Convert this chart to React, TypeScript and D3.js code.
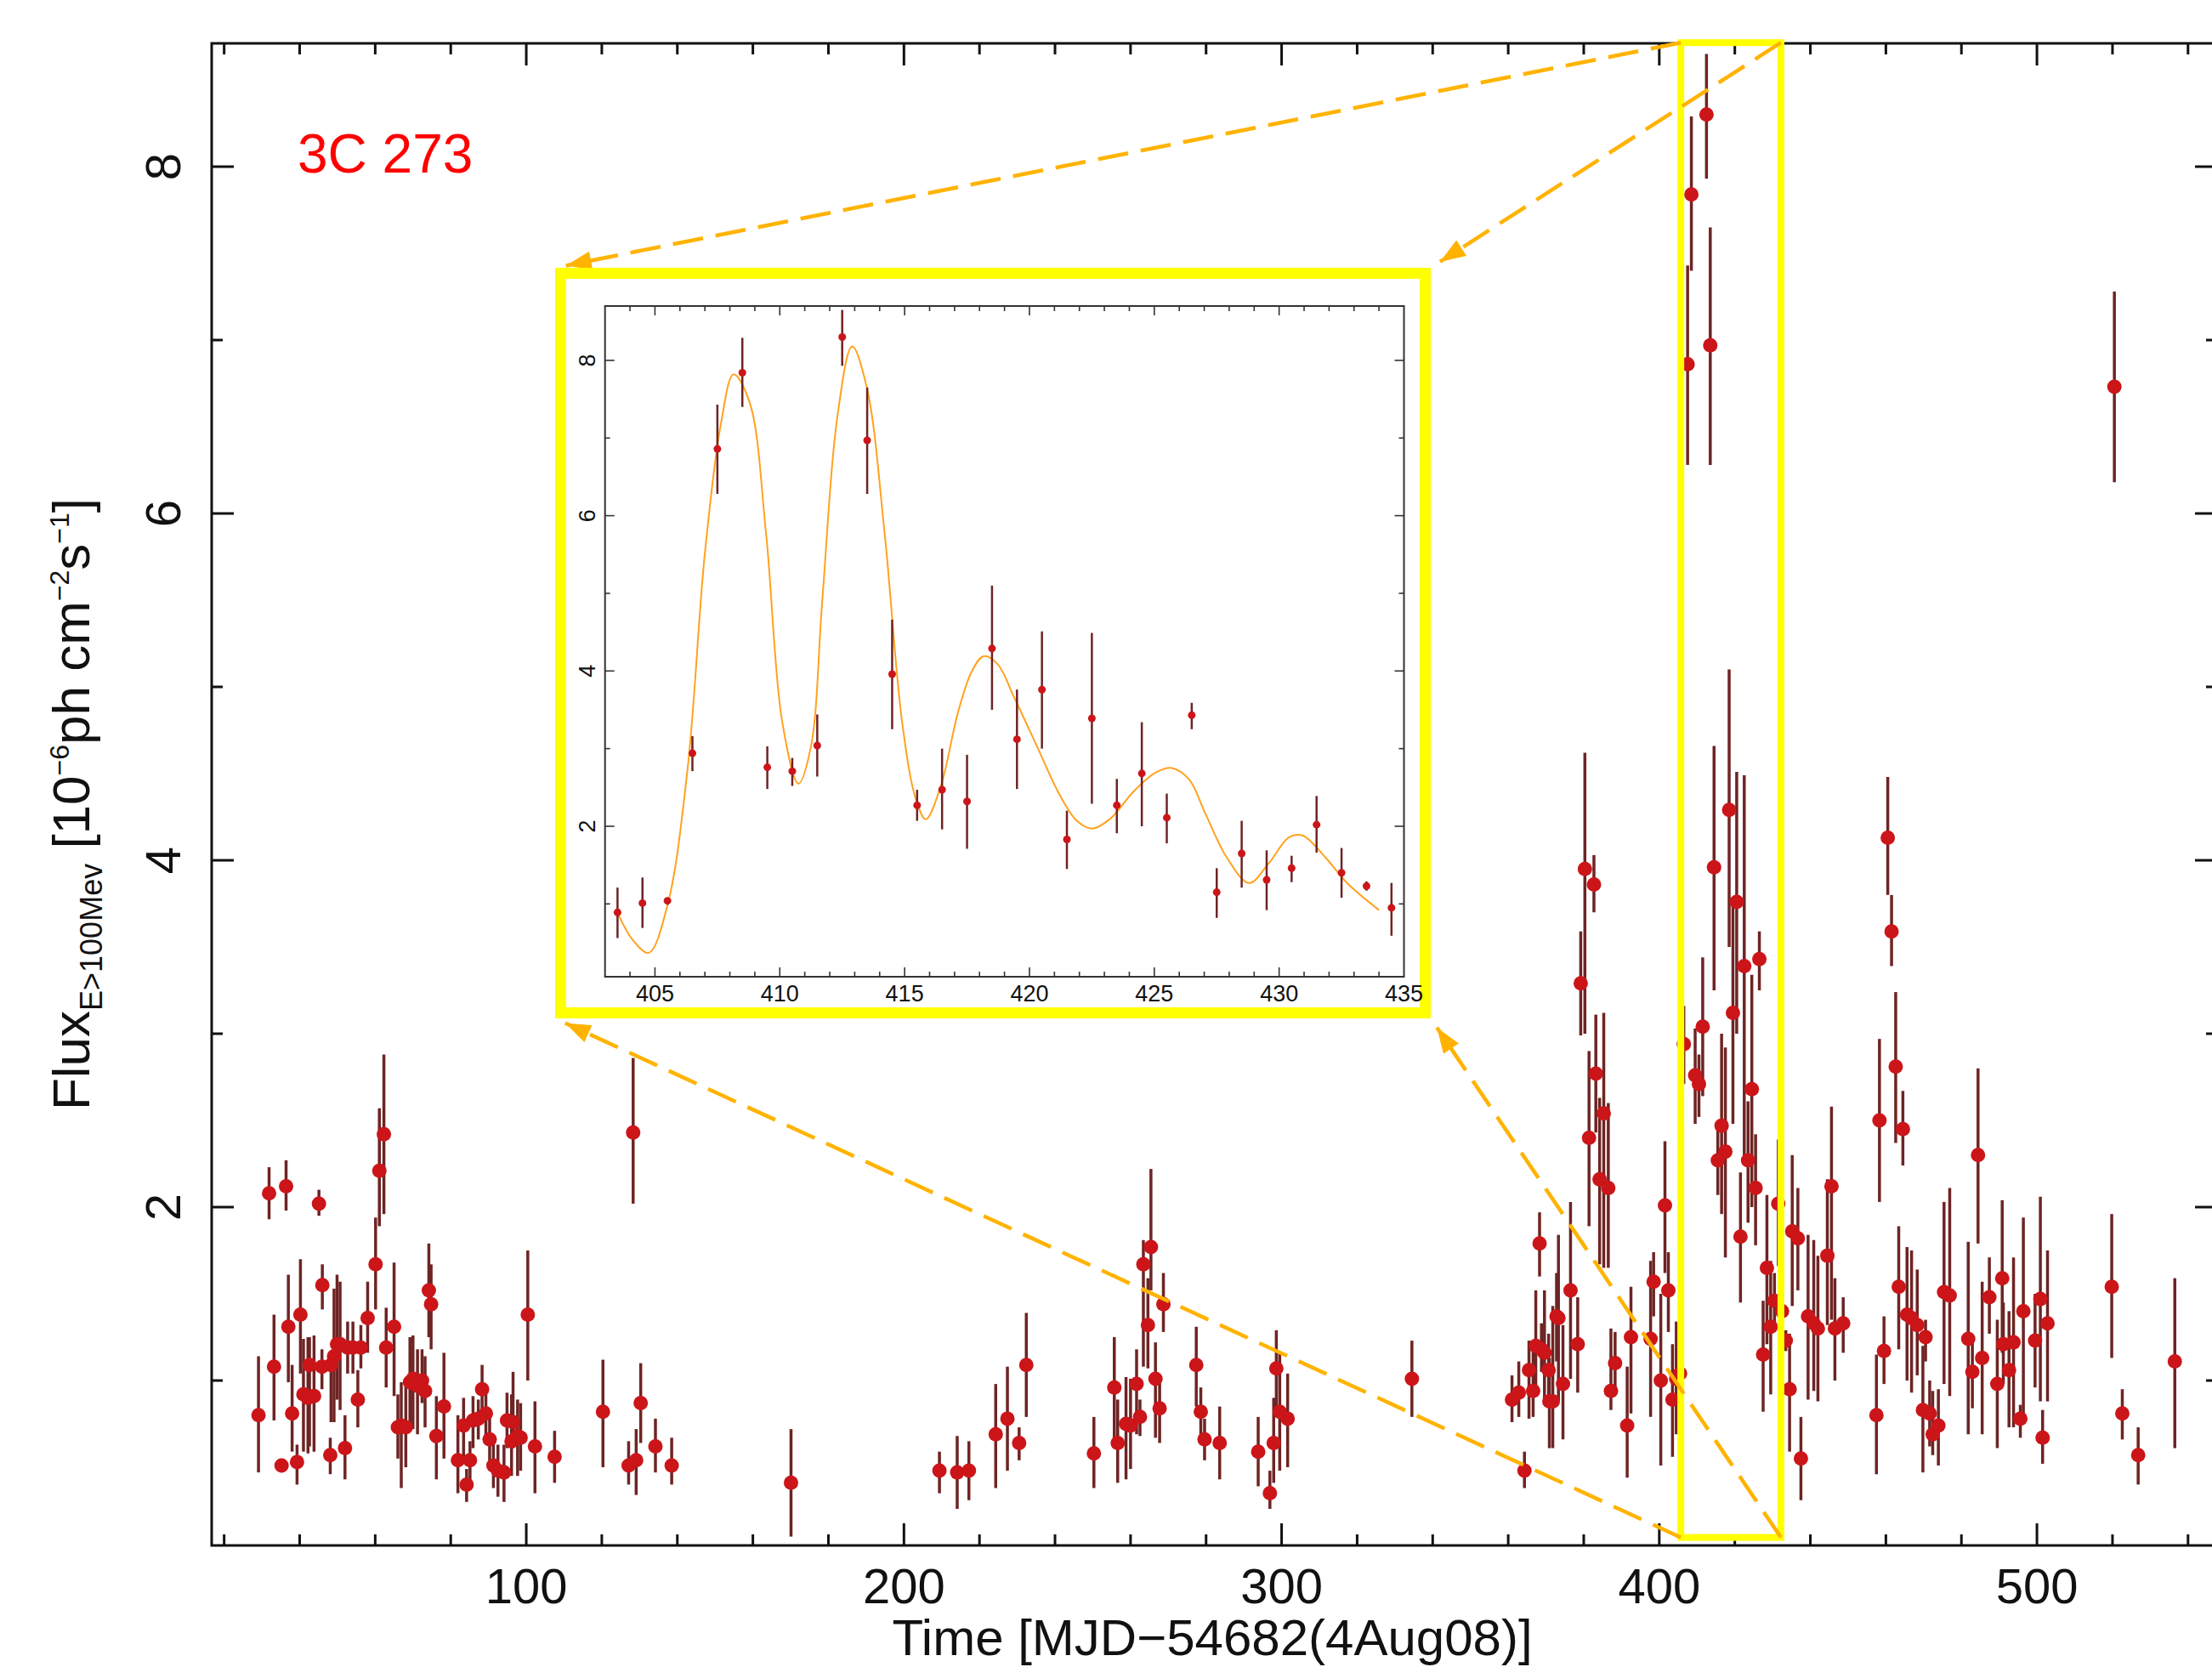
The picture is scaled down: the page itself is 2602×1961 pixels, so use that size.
import React from 'react';
import * as d3 from 'd3';

// [time, flux, errTop, errBottom]  (10^-6 ph cm^-2 s^-1)
const epoch1: number[][] = [
  [29.1, 0.80, 1.14, 0.47], [31.9, 2.08, 2.23, 1.93], [33.2, 1.08, 1.38, 0.77], [35.2, 0.51, 0.55, 0.47],
  [36.4, 2.12, 2.27, 1.98], [37.0, 1.31, 1.61, 0.99], [38.0, 0.81, 1.09, 0.59], [39.3, 0.53, 0.63, 0.40],
  [40.2, 1.38, 1.70, 1.04], [41.0, 0.92, 1.24, 0.59], [42.2, 0.90, 1.25, 0.58], [42.6, 1.09, 1.25, 0.62],
  [43.8, 0.91, 1.26, 0.59], [45.1, 2.02, 2.10, 1.95], [46.0, 1.55, 1.67, 1.41], [45.9, 1.08, 1.18, 0.95],
  [48.1, 0.57, 0.67, 0.46], [48.3, 1.09, 1.16, 0.76], [49.1, 1.14, 1.53, 0.76], [49.9, 1.21, 1.61, 0.89],
  [50.7, 1.21, 1.57, 0.83], [52.0, 0.61, 0.80, 0.43], [52.7, 1.19, 1.34, 1.04], [54.1, 1.19, 1.34, 1.04],
  [55.4, 0.89, 1.06, 0.73], [56.2, 1.19, 1.32, 1.07], [58.0, 1.36, 1.57, 1.16], [60.1, 1.67, 1.94, 1.41],
  [61.1, 2.21, 2.57, 1.89], [62.3, 2.42, 2.88, 1.96], [62.9, 1.19, 1.42, 0.96], [65.0, 1.31, 1.68, 0.91],
  [66.0, 0.73, 0.92, 0.55], [66.9, 0.74, 0.99, 0.38], [68.1, 0.73, 0.97, 0.50], [69.2, 0.99, 1.25, 0.73],
  [70.0, 1.01, 1.26, 0.72], [71.2, 0.97, 1.18, 0.69], [72.4, 1.00, 1.18, 0.87], [73.2, 0.94, 1.14, 0.73],
  [74.2, 1.52, 1.79, 1.25], [74.8, 1.44, 1.67, 1.18], [76.2, 0.68, 0.91, 0.43], [78.2, 0.85, 1.16, 0.55],
  [81.9, 0.54, 0.80, 0.35], [83.4, 0.74, 0.90, 0.55], [84.2, 0.40, 0.49, 0.30], [85.1, 0.54, 0.65, 0.42],
  [85.9, 0.77, 0.91, 0.61], [87.3, 0.78, 0.89, 0.66], [88.3, 0.95, 1.09, 0.82], [89.3, 0.81, 0.95, 0.67],
  [90.3, 0.66, 0.82, 0.51], [91.3, 0.51, 0.65, 0.38], [92.5, 0.48, 0.63, 0.33], [94.1, 0.47, 0.63, 0.30],
  [94.9, 0.77, 0.93, 0.61], [96.1, 0.65, 0.92, 0.45], [96.5, 0.76, 1.05, 0.61], [97.7, 0.68, 0.89, 0.45],
  [98.5, 0.67, 0.87, 0.48], [100.4, 1.38, 1.75, 1.00], [102.3, 0.62, 0.88, 0.35], [107.5, 0.56, 0.71, 0.41],
  [120.3, 0.82, 1.12, 0.50], [127.1, 0.51, 0.65, 0.40], [128.3, 2.43, 2.86, 2.02], [129.1, 0.54, 0.72, 0.34],
  [130.3, 0.87, 1.10, 0.64], [134.2, 0.62, 0.78, 0.47], [138.5, 0.51, 0.67, 0.40],
];

const epoch2: number[][] = [
  [170.1, 0.41, 0.72, 0.10], [209.4, 0.48, 0.59, 0.35], [214.1, 0.47, 0.68, 0.26], [217.2, 0.48, 0.65, 0.31],
  [224.3, 0.69, 0.98, 0.38], [227.4, 0.78, 1.08, 0.48], [230.5, 0.64, 0.73, 0.54], [232.4, 1.09, 1.39, 0.79],
  [250.3, 0.58, 0.79, 0.38], [255.7, 0.96, 1.25, 0.64], [256.6, 0.64, 0.89, 0.41], [258.8, 0.75, 1.02, 0.43],
  [260.0, 0.74, 1.01, 0.49], [261.6, 0.98, 1.18, 0.69], [262.5, 0.79, 0.89, 0.68], [263.4, 1.67, 1.81, 1.08],
  [265.4, 1.77, 2.22, 1.52], [264.6, 1.32, 1.59, 1.07], [266.6, 1.01, 1.22, 0.67], [267.7, 0.84, 1.00, 0.64],
  [268.7, 1.44, 1.62, 1.28], [277.4, 1.09, 1.31, 0.85], [278.6, 0.82, 0.96, 0.69], [279.6, 0.66, 0.78, 0.54],
  [283.6, 0.64, 0.85, 0.43], [293.8, 0.59, 0.79, 0.39], [296.9, 0.35, 0.48, 0.26], [297.9, 0.64, 0.90, 0.41],
  [298.6, 1.07, 1.29, 0.80], [299.5, 0.82, 1.16, 0.48], [301.6, 0.78, 1.04, 0.50], [334.5, 1.01, 1.23, 0.79],
];

const epoch3: number[][] = [
  [361.0, 0.89, 1.03, 0.76], [362.8, 0.93, 1.11, 0.79], [364.3, 0.48, 0.59, 0.38], [365.5, 1.06, 1.23, 0.78],
  [366.6, 0.94, 1.21, 0.79], [367.3, 1.20, 1.52, 0.91], [368.3, 1.79, 1.97, 1.60], [368.8, 1.18, 1.33, 1.05],
  [369.6, 1.16, 1.52, 0.86], [370.7, 1.06, 1.27, 0.91], [370.9, 0.88, 1.13, 0.61], [371.8, 0.88, 1.43, 0.61],
  [372.8, 1.37, 1.62, 1.11], [373.3, 1.36, 1.84, 0.88], [374.5, 0.98, 1.32, 0.66], [376.5, 1.52, 2.03, 1.01],
  [378.4, 1.21, 1.48, 0.93], [379.2, 3.29, 3.59, 2.99], [380.3, 3.95, 4.62, 3.00], [382.7, 3.86, 4.03, 3.70],
  [381.4, 2.40, 2.90, 1.89], [383.2, 2.77, 3.11, 2.43], [385.3, 2.54, 3.12, 1.65], [384.2, 2.16, 2.63, 1.67],
  [386.5, 2.11, 2.60, 1.65], [387.2, 0.94, 1.30, 0.83], [388.3, 1.10, 1.28, 0.94], [391.5, 0.74, 1.08, 0.44],
  [392.5, 1.25, 1.54, 0.81], [397.7, 1.24, 1.69, 0.79], [398.5, 1.57, 1.74, 1.37], [400.4, 1.00, 1.50, 0.51],
  [401.5, 2.01, 2.38, 1.62], [402.4, 1.52, 1.74, 1.28],
];

// daily bins of the big flare, also drawn in the inset
const flareDays: number[][] = [
  [403.5, 0.89, 1.21, 0.56], [404.5, 1.01, 1.34, 0.69], [405.5, 1.04, 1.08, 0.99], [406.5, 2.94, 3.16, 2.71],
  [407.5, 6.86, 7.43, 6.28], [408.5, 7.84, 8.29, 7.40], [409.5, 2.76, 3.03, 2.48], [410.5, 2.71, 2.88, 2.52],
  [411.5, 3.04, 3.44, 2.64], [412.5, 8.30, 8.65, 7.93], [413.5, 6.97, 7.65, 6.28], [414.5, 3.96, 4.66, 3.25],
  [415.5, 2.27, 2.47, 2.07], [416.5, 2.47, 3.00, 1.96], [417.5, 2.32, 2.92, 1.71], [418.5, 4.29, 5.10, 3.50],
  [419.5, 3.12, 3.76, 2.48], [420.5, 3.76, 4.51, 3.00], [421.5, 1.83, 2.20, 1.45], [422.5, 3.39, 4.49, 2.29],
  [423.5, 2.27, 2.61, 1.91], [424.5, 2.68, 3.34, 2.00], [425.5, 2.11, 2.42, 1.78], [426.5, 3.43, 3.59, 3.25],
  [427.5, 1.15, 1.46, 0.82], [428.5, 1.65, 2.07, 1.21], [429.5, 1.31, 1.69, 0.92], [430.5, 1.46, 1.62, 1.28],
  [431.5, 2.02, 2.39, 1.66], [432.5, 1.40, 1.72, 1.08], [433.5, 1.23, 1.29, 1.17], [434.5, 0.95, 1.27, 0.59],
];

const epoch4: number[][] = [
  [435.2, 1.86, 2.30, 1.43], [436.7, 1.82, 2.11, 1.52], [437.5, 0.55, 0.79, 0.31], [439.4, 1.37, 1.84, 0.89],
  [440.9, 1.33, 1.81, 0.94], [442.0, 1.30, 1.72, 0.88], [444.5, 1.72, 2.16, 1.32], [445.6, 2.12, 2.58, 1.35],
  [446.5, 1.30, 1.59, 1.00], [448.7, 1.33, 1.48, 1.16], [457.5, 0.80, 1.15, 0.46], [458.3, 2.50, 2.97, 2.03],
  [459.5, 1.17, 1.37, 0.98], [460.5, 4.13, 4.48, 3.80], [461.5, 3.59, 3.80, 3.39], [462.6, 2.81, 3.24, 2.37],
  [463.4, 1.54, 1.89, 1.18], [464.5, 2.45, 2.67, 2.24], [465.6, 1.38, 1.77, 1.00], [466.8, 1.36, 1.75, 0.93],
  [468.3, 1.32, 1.64, 1.03], [469.8, 0.83, 1.20, 0.47], [470.5, 1.25, 1.35, 1.11], [471.6, 0.81, 1.00, 0.62],
  [472.4, 0.69, 0.94, 0.57], [473.9, 0.74, 0.95, 0.51], [475.4, 1.51, 2.03, 0.98], [476.9, 1.49, 2.11, 0.91],
  [481.8, 1.24, 1.80, 0.69], [482.9, 1.05, 1.25, 0.84], [484.4, 2.30, 2.80, 1.79], [485.5, 1.13, 1.57, 0.69],
  [487.4, 1.48, 1.71, 1.27], [489.5, 0.98, 1.35, 0.61], [490.8, 1.59, 2.04, 1.16], [491.1, 1.21, 1.45, 0.98],
  [492.6, 1.06, 1.40, 0.73], [493.8, 1.22, 1.71, 0.73], [495.6, 0.78, 0.86, 0.67], [496.4, 1.40, 1.94, 0.79],
  [499.5, 1.23, 1.50, 0.96], [500.9, 1.47, 2.06, 0.88], [501.5, 0.67, 0.83, 0.52], [502.8, 1.33, 1.75, 0.88],
  [519.8, 1.54, 1.96, 1.13], [520.5, 6.73, 7.28, 6.18], [522.6, 0.81, 0.95, 0.66], [526.8, 0.57, 0.73, 0.40],
  [536.5, 1.11, 1.59, 0.61],
];

// fitted light curve in the inset
const fitCurve: number[][] = [
  [403.5, 0.89], [404.1, 0.54], [404.75, 0.37], [405.5, 0.98], [406.3, 2.72], [407.0, 5.52], [407.65, 7.2],
  [408.15, 7.82], [408.8, 7.45], [409.45, 5.77], [410.1, 3.34], [410.75, 2.55], [411.25, 3.03], [411.7, 4.9],
  [412.3, 7.26], [412.9, 8.18], [413.5, 7.63], [414.2, 5.77], [414.9, 3.34], [415.45, 2.35], [415.85, 2.09],
  [416.46, 2.53], [417.14, 3.47], [417.7, 4.0], [418.16, 4.19], [418.72, 4.09], [419.4, 3.65], [420.3, 3.03],
  [421.2, 2.41], [421.9, 2.07], [422.5, 1.97], [423.25, 2.1], [424.15, 2.44], [425.05, 2.69], [425.7, 2.75],
  [426.4, 2.6], [427.05, 2.16], [427.9, 1.6], [428.8, 1.27], [429.6, 1.53], [430.4, 1.86], [430.95, 1.88],
  [431.85, 1.6], [432.75, 1.26], [434.0, 0.92],
];

const xTickLabels = [100, 200, 300, 400, 500];
const yTickLabels = [2, 4, 6, 8];
const insetXTickLabels = [405, 410, 415, 420, 425, 430, 435];
const insetYTickLabels = [2, 4, 6, 8];
const zoomWindow = [405.7, 432.2];

const FONT = 'Liberation Sans, Arial, Helvetica, sans-serif';
const W = 2602;
const H = 1961;

export default function App() {
  const m = { left: 249, right: 2608, top: 51, bottom: 1818 };
  const x = d3.scaleLinear().domain([16.7, 547.7]).range([m.left, m.right]);
  const y = d3.scaleLinear().domain([0.049, 8.711]).range([m.bottom, m.top]);

  const ib = { x0: 653, y0: 315, x1: 1683, y1: 1198, sw: 13 };
  const im = { left: 711.7, right: 1651.5, top: 360, bottom: 1149 };
  const ix = d3.scaleLinear().domain([403, 435]).range([im.left, im.right]);
  const iy = d3.scaleLinear().domain([0.062, 8.7]).range([im.bottom, im.top]);

  const allMain = [...epoch1, ...epoch2, ...epoch3, ...flareDays, ...epoch4];

  const fitLine = d3.line<number[]>()
    .x(d => ix(d[0]))
    .y(d => iy(d[1]))
    .curve(d3.curveCatmullRom.alpha(0.5));

  const hx0 = x(zoomWindow[0]);
  const hx1 = x(zoomWindow[1]);
  const hy0 = y(8.715);
  const hy1 = y(0.095);

  // dashed connectors: highlight corner -> inset corner (stop a bit short)
  const links = [
    [hx0, hy0, ib.x0, ib.y0],
    [hx1, hy0, ib.x1, ib.y0],
    [hx0, hy1, ib.x0, ib.y1],
    [hx1, hy1, ib.x1, ib.y1],
  ].map(([sx, sy, tx, ty]) => {
    const len = Math.hypot(sx - tx, sy - ty);
    const k = 13 / len;
    return [sx, sy, tx + (sx - tx) * k, ty + (sy - ty) * k];
  });

  const xMinor = d3.range(20, 547, 20);
  const yMinor = d3.range(1, 9, 1);
  const ixMinor = d3.range(404, 435, 1);
  const iyMinor = d3.range(1, 9, 1);

  return (
    <svg width={W} height={H} style={{ position: 'absolute', left: 0, top: 0, background: '#fff' }}
         fontFamily={FONT}>
      <defs>
        <clipPath id="plotClip">
          <rect x={m.left} y={m.top} width={m.right - m.left} height={m.bottom - m.top}/>
        </clipPath>
        <marker id="arrowHead" viewBox="0 -11 30 22" refX="30" refY="0" markerWidth="30" markerHeight="22"
                markerUnits="userSpaceOnUse" orient="auto">
          <path d="M0,-11L30,0L0,11Z" fill="#ffb300"/>
        </marker>
      </defs>
      <rect width={W} height={H} fill="#fff"/>

      {/* main frame */}
      <rect x={m.left} y={m.top} width={m.right - m.left} height={m.bottom - m.top}
            fill="none" stroke="#111" strokeWidth={3}/>
      {xMinor.map(v => {
        const big = v % 100 === 0;
        const len = big ? 26 : 13;
        return (
          <g key={'xt' + v} stroke="#111" strokeWidth={3}>
            <line x1={x(v)} x2={x(v)} y1={m.bottom} y2={m.bottom - len}/>
            <line x1={x(v)} x2={x(v)} y1={m.top} y2={m.top + len}/>
          </g>
        );
      })}
      {yMinor.map(v => {
        const big = v % 2 === 0;
        const len = big ? 26 : 13;
        return (
          <g key={'yt' + v} stroke="#111" strokeWidth={3}>
            <line x1={m.left} x2={m.left + len} y1={y(v)} y2={y(v)}/>
            <line x1={m.right} x2={m.right - len} y1={y(v)} y2={y(v)}/>
          </g>
        );
      })}
      {xTickLabels.map(v => (
        <text key={'xl' + v} x={x(v)} y={1886} fontSize={58} textAnchor="middle" fill="#111">{v}</text>
      ))}
      {yTickLabels.map(v => (
        <text key={'yl' + v} transform={`translate(212,${y(v)}) rotate(-90)`} fontSize={58}
              textAnchor="middle" fill="#111">{v}</text>
      ))}

      <text x={1426} y={1947} fontSize={60} textAnchor="middle" fill="#111">Time [MJD−54682(4Aug08)]</text>
      <text transform="translate(105,946) rotate(-90)" fontSize={62} textAnchor="middle" fill="#111">
        Flux
        <tspan fontSize={36} dy={15}>E&gt;100Mev</tspan>
        <tspan dy={-15}>{' [10'}</tspan>
        <tspan fontSize={32} dy={-24}>−6</tspan>
        <tspan dy={24}>ph cm</tspan>
        <tspan fontSize={32} dy={-24}>−2</tspan>
        <tspan dy={24}>s</tspan>
        <tspan fontSize={32} dy={-24}>−1</tspan>
        <tspan dy={24}>]</tspan>
      </text>

      <text x={350} y={203} fontSize={64} fill="#ff0000">3C 273</text>

      {/* main light curve */}
      <g clipPath="url(#plotClip)">
        {allMain.map((d, i) => (
          <line key={'me' + i} x1={x(d[0])} x2={x(d[0])} y1={y(d[2])} y2={y(d[3])}
                stroke="#6e2424" strokeWidth={3.5}/>
        ))}
        {allMain.map((d, i) => (
          <circle key={'mp' + i} cx={x(d[0])} cy={y(d[1])} r={8.5} fill="#cc1519"/>
        ))}
      </g>

      {/* highlighted window */}
      <rect x={hx0} y={hy0} width={hx1 - hx0} height={hy1 - hy0} fill="none" stroke="#ffff00" strokeWidth={8}/>

      {links.map((l, i) => (
        <line key={'lk' + i} x1={l[0]} y1={l[1]} x2={l[2]} y2={l[3]} stroke="#ffb300" strokeWidth={4.5}
              strokeDasharray="36 15" markerEnd="url(#arrowHead)"/>
      ))}

      {/* inset */}
      <rect x={ib.x0 + ib.sw / 2} y={ib.y0 + ib.sw / 2} width={ib.x1 - ib.x0 - ib.sw} height={ib.y1 - ib.y0 - ib.sw}
            fill="#fff" stroke="#ffff00" strokeWidth={ib.sw}/>
      <rect x={im.left} y={im.top} width={im.right - im.left} height={im.bottom - im.top}
            fill="none" stroke="#333" strokeWidth={2}/>
      {ixMinor.map(v => {
        const len = v % 5 === 0 ? 11 : 6;
        return (
          <g key={'ixt' + v} stroke="#333" strokeWidth={1.6}>
            <line x1={ix(v)} x2={ix(v)} y1={im.bottom} y2={im.bottom - len}/>
            <line x1={ix(v)} x2={ix(v)} y1={im.top} y2={im.top + len}/>
          </g>
        );
      })}
      {iyMinor.map(v => {
        const len = v % 2 === 0 ? 11 : 6;
        return (
          <g key={'iyt' + v} stroke="#333" strokeWidth={1.6}>
            <line x1={im.left} x2={im.left + len} y1={iy(v)} y2={iy(v)}/>
            <line x1={im.right} x2={im.right - len} y1={iy(v)} y2={iy(v)}/>
          </g>
        );
      })}
      {insetXTickLabels.map(v => (
        <text key={'ixl' + v} x={ix(v)} y={1178} fontSize={27} textAnchor="middle" fill="#111">{v}</text>
      ))}
      {insetYTickLabels.map(v => (
        <text key={'iyl' + v} transform={`translate(700,${iy(v)}) rotate(-90)`} fontSize={27}
              textAnchor="middle" fill="#111">{v}</text>
      ))}
      <path d={fitLine(fitCurve) || ''} fill="none" stroke="#ffa21f" strokeWidth={2}/>
      {flareDays.map((d, i) => (
        <line key={'ie' + i} x1={ix(d[0])} x2={ix(d[0])} y1={iy(d[2])} y2={iy(d[3])}
              stroke="#6e2424" strokeWidth={2.5}/>
      ))}
      {flareDays.map((d, i) => (
        <circle key={'ip' + i} cx={ix(d[0])} cy={iy(d[1])} r={4.5} fill="#cc1519"/>
      ))}
    </svg>
  );
}
